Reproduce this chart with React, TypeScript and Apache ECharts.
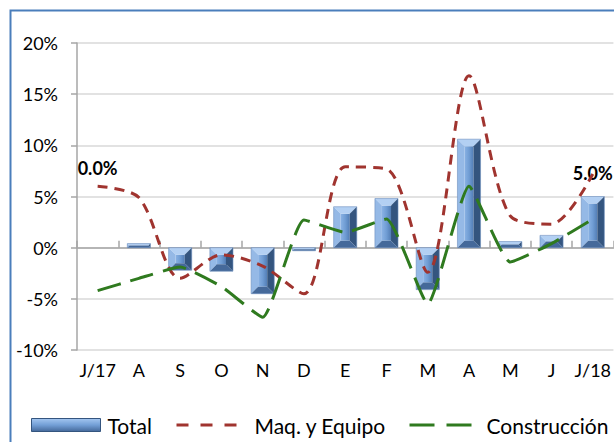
import React, { useEffect, useRef } from "react";
import * as echarts from "echarts";

const categories = ["J/17", "A", "S", "O", "N", "D", "E", "F", "M", "A", "M", "J", "J/18"];
const totalValues = [0.0, 0.4, -2.2, -2.3, -4.5, -0.3, 4.0, 4.8, -4.1, 10.6, 0.6, 1.2, 5.0];
const maqValues = [6.0, 4.9, -3.0, -0.7, -1.8, -4.5, 7.9, 7.7, -2.4, 16.8, 3.1, 2.3, 7.2];
const construccionValues = [-4.2, -3.0, -1.9, -3.8, -6.8, 2.7, 1.5, 2.8, -5.5, 6.0, -1.4, 0.4, 2.8];
const labeledIndices = [0, 12];
const yTicks = { min: -10, max: 20, interval: 5 };

const FONT = "Lato, 'Open Sans', sans-serif";

export default function App() {
  const ref = useRef<HTMLDivElement>(null);
  useEffect(() => {
    if (!ref.current) return;
    const chart = echarts.init(ref.current, null, { renderer: "svg" });

    const renderBar = (params: any, api: any) => {
      const idx = params.dataIndex;
      const x = api.value(0);
      const v = api.value(1);
      const p0 = api.coord([x, 0]);
      const p1 = api.coord([x, v]);
      const bw = api.size([1, 0])[0] * 0.56;
      const x0 = p0[0] - bw / 2;
      const x1 = x0 + bw;
      const yT = Math.min(p0[1], p1[1]);
      const yB = Math.max(p0[1], p1[1]);
      const h = yB - yT;
      const children: any[] = [];
      if (h > 0.5) {
        const b = Math.min(7, h / 2, bw / 2);
        children.push(
          {
            type: "rect",
            shape: { x: x0 + b, y: yT + b, width: bw - 2 * b, height: Math.max(0, h - 2 * b) },
            style: {
              fill: new echarts.graphic.LinearGradient(0, 0, 1, 0, [
                { offset: 0, color: "#8ab2e4" },
                { offset: 0.5, color: "#709dd4" },
                { offset: 1, color: "#527db5" },
              ]),
            },
          },
          {
            type: "polygon",
            shape: { points: [[x0, yT], [x1, yT], [x1 - b, yT + b], [x0 + b, yT + b]] },
            style: { fill: "#b3d0f3" },
          },
          {
            type: "polygon",
            shape: { points: [[x0, yT], [x0 + b, yT + b], [x0 + b, yB - b], [x0, yB]] },
            style: { fill: "#95b9e6" },
          },
          {
            type: "polygon",
            shape: { points: [[x1, yT], [x1 - b, yT + b], [x1 - b, yB - b], [x1, yB]] },
            style: { fill: "#34557f" },
          },
          {
            type: "polygon",
            shape: { points: [[x0, yB], [x1, yB], [x1 - b, yB - b], [x0 + b, yB - b]] },
            style: { fill: "#45699a" },
          },
          {
            type: "rect",
            shape: { x: x0, y: yT, width: bw, height: h },
            style: { fill: "none", stroke: "#6d8fbd", lineWidth: 0.6 },
          }
        );
      }
      const li = labeledIndices.indexOf(idx);
      if (li >= 0) {
        const top = idx === 0 ? p1[1] - 80 : Math.min(p0[1], p1[1]) - 24;
        children.push({
          type: "text",
          x: p0[0],
          y: top,
          style: {
            text: (v as number).toFixed(1) + "%",
            fill: "#000",
            font: `bold 18px ${FONT}`,
            align: "center",
            verticalAlign: "middle",
          },
          z2: 100,
        });
      }
      return { type: "group", children };
    };

    const legendText = { fontSize: 21, color: "#000", fontFamily: FONT, lineHeight: 26 };

    const option: any = {
      animation: false,
      textStyle: { fontFamily: FONT },
      grid: { left: 77, right: 0, top: 43, bottom: 92, containLabel: false },
      graphic: [
        {
          type: "rect",
          shape: { x: 10.5, y: 10.5, width: 800, height: 600 },
          style: { fill: "none", stroke: "#4a7ebb", lineWidth: 2 },
          silent: true,
        },
      ],
      legend: [
        {
          left: 31,
          top: 412,
          padding: 0,
          data: [
            {
              name: "Total",
              icon: "rect",
              itemStyle: {
                color: new echarts.graphic.LinearGradient(0, 0, 0, 1, [
                  { offset: 0, color: "#a3c6f0" },
                  { offset: 0.5, color: "#739fd6" },
                  { offset: 1, color: "#45699a" },
                ]),
                borderColor: "#34557f",
                borderWidth: 1,
              },
            },
          ],
          itemWidth: 69,
          itemHeight: 13,
          textStyle: { ...legendText, padding: [0, 0, 0, 2] },
        },
        {
          left: 175,
          top: 412,
          padding: 0,
          data: ["Maq. y Equipo"],
          itemWidth: 60,
          itemHeight: 13,
          itemStyle: { opacity: 0 },
          lineStyle: { type: [12, 12], width: 3 },
          textStyle: { ...legendText, padding: [0, 0, 0, 13] },
        },
        {
          left: 408,
          top: 412,
          padding: 0,
          data: ["Construcción"],
          itemWidth: 62,
          itemHeight: 13,
          itemStyle: { opacity: 0 },
          lineStyle: { type: [25, 12], width: 3 },
          textStyle: { ...legendText, padding: [0, 0, 0, 10] },
        },
      ],
      xAxis: [
        {
          type: "category",
          data: categories,
          position: "bottom",
          axisLine: { show: false },
          axisTick: { show: false },
          axisLabel: { color: "#000", fontSize: 18, fontFamily: FONT, margin: 11, interval: 0 },
        },
        {
          type: "category",
          data: categories,
          axisLine: { onZero: true, onZeroAxisIndex: 0, lineStyle: { color: "#a6a6a6", width: 1.5 } },
          axisTick: { show: true, length: 7, interval: 0, lineStyle: { color: "#a6a6a6", width: 1.5 } },
          axisLabel: { show: false },
          splitLine: { show: false },
        },
      ],
      yAxis: {
        type: "value",
        min: yTicks.min,
        max: yTicks.max,
        interval: yTicks.interval,
        axisLine: { show: true, lineStyle: { color: "#a6a6a6", width: 1.5 } },
        axisTick: { show: true, length: 6, lineStyle: { color: "#a6a6a6", width: 1.5 } },
        axisLabel: { formatter: "{value}%", color: "#000", fontSize: 18, fontFamily: FONT, margin: 19 },
        splitLine: { show: true, lineStyle: { color: "#d9d9d9", width: 1.5 } },
      },
      series: [
        {
          name: "Total",
          type: "custom",
          xAxisIndex: 0,
          renderItem: renderBar,
          encode: { x: 0, y: 1 },
          data: totalValues.map((v, i) => [i, v]),
          itemStyle: { color: "#6f9bd3" },
          z: 2,
        },
        {
          name: "Maq. y Equipo",
          type: "line",
          xAxisIndex: 0,
          data: maqValues,
          smooth: 0.3,
          symbol: "none",
          lineStyle: { color: "#a0342f", width: 3, type: [10, 7] },
          itemStyle: { color: "#a0342f" },
          z: 3,
        },
        {
          name: "Construcción",
          type: "line",
          xAxisIndex: 0,
          data: construccionValues,
          smooth: 0.15,
          symbol: "none",
          lineStyle: { color: "#2f7a1f", width: 3, type: [24, 10] },
          itemStyle: { color: "#2f7a1f" },
          z: 4,
        },
      ],
    };
    chart.setOption(option);
    return () => chart.dispose();
  }, []);
  return <div ref={ref} style={{ width: 614, height: 442, position: "absolute", left: 0, top: 0 }} />;
}
